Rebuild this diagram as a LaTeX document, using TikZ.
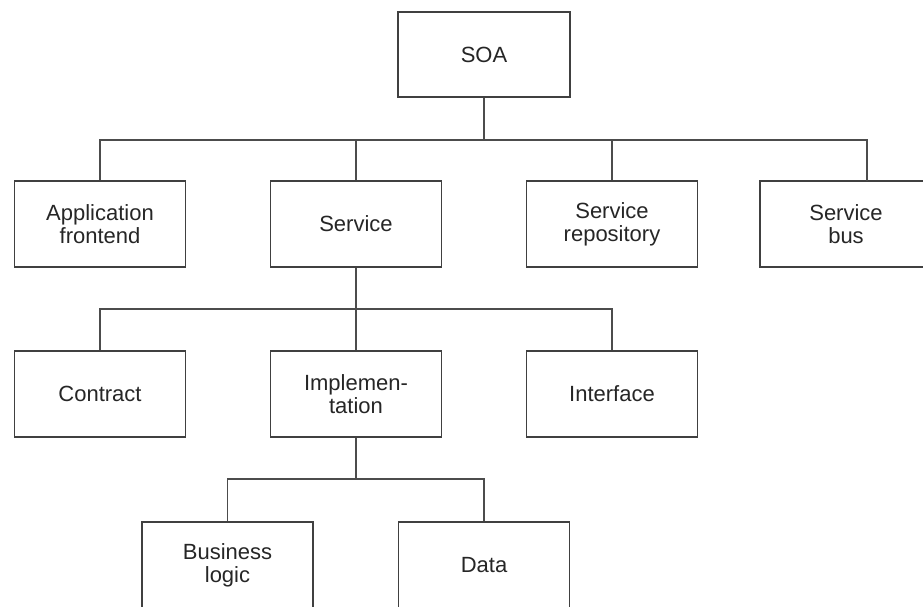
\documentclass[tikz,border=0pt]{standalone}
\usepackage{fontspec}
\setmainfont{Liberation Sans}
\begin{document}
\begin{tikzpicture}[x=1pt,y=-1pt,
  box/.style={draw=black!75, line width=1.8pt, fill=white, minimum width=171pt, minimum height=86pt,
    inner sep=0pt, align=center, font=\fontsize{22}{23}\selectfont, text=black!85},
  link/.style={draw=black!70, line width=1.7pt}]
\useasboundingbox[fill=white] (0,0) rectangle (923,606);
% connectors first
\coordinate (t1) at (484,140);
\coordinate (t2) at (356,309);
\coordinate (t3) at (356,479);
\coordinate (busin) at (867,181);
\node[box, minimum width=172pt, minimum height=85pt] (soa) at (484,54.5) {SOA};
\node[box] (app) at (100,224) {Application\\frontend};
\node[box] (service) at (356,224) {Service};
\node[box] (repo) at (612,224) {Service\\repository};
\node[box, minimum width=172pt] (bus) at (846,224) {Service\\bus};
\node[box] (contract) at (100,394) {Contract};
\node[box] (impl) at (356,394) {Implemen-\\tation};
\node[box] (iface) at (612,394) {Interface};
\node[box] (biz) at (227.5,565) {Business\\logic};
\node[box] (data) at (484,565) {Data};
\draw[link] (soa.south) -- (t1);
\draw[link] (app.north) |- (t1) -| (busin);
\draw[link] (service.north) -- (service.north |- t1);
\draw[link] (repo.north) -- (repo.north |- t1);
\draw[link] (service.south) -- (impl.north);
\draw[link] (contract.north) |- (t2) -| (iface.north);
\draw[link] (impl.south) -- (t3);
\draw[link] (biz.north) |- (t3) -| (data.north);
\end{tikzpicture}
\end{document}
